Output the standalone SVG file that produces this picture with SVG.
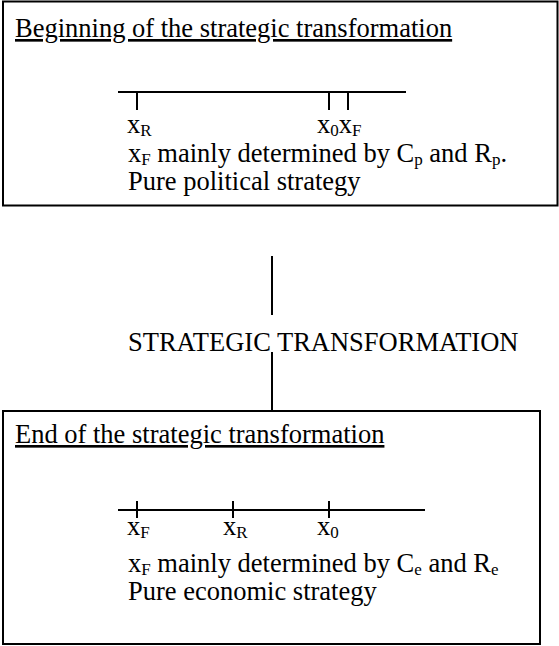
<svg xmlns="http://www.w3.org/2000/svg" width="559" height="646" viewBox="0 0 559 646">
<style>
text{font-family:'Liberation Serif','Times New Roman','Nimbus Roman','DejaVu Serif',serif;font-size:26.5px;fill:#000}
.sub{font-size:17px}
.box{fill:#fff;stroke:#000;stroke-width:2}
.ln{stroke:#000;stroke-width:2;fill:none}
.ul{text-decoration:underline}
</style>
<rect width="559" height="646" fill="#fff"/>
<g id="begin">
<rect class="box" x="3" y="1.5" width="554.5" height="204"/>
<text x="15" y="37" class="ul" font-family="Liberation Serif, serif">Beginning of the strategic transformation</text>
<path class="ln" d="M118 92H406M137 92V110M329 92V110M348 92V110"/>
<text x="127" y="133" font-family="Liberation Serif, serif">x<tspan class="sub" dy="3">R</tspan></text>
<text x="317" y="133" font-family="Liberation Serif, serif">x<tspan class="sub" dy="3">0</tspan><tspan dy="-3">x</tspan><tspan class="sub" dy="3">F</tspan></text>
<text x="128" y="162" font-family="Liberation Serif, serif">x<tspan class="sub" dy="3">F</tspan><tspan dy="-3"> mainly determined by C</tspan><tspan class="sub" dy="3">p</tspan><tspan dy="-3"> and R</tspan><tspan class="sub" dy="3">p</tspan><tspan dy="-3">.</tspan></text>
<text x="128" y="190" font-family="Liberation Serif, serif">Pure political strategy</text>
</g>
<g id="connectors">
<path class="ln" d="M272 256V315M272 352V410"/>
</g>
<g id="transformation">
<text x="128" y="351" font-family="Liberation Serif, serif">STRATEGIC TRANSFORMATION</text>
</g>
<g id="end">
<rect class="box" x="3" y="411" width="537" height="233"/>
<text x="15" y="443" class="ul" font-family="Liberation Serif, serif">End of the strategic transformation</text>
<path class="ln" d="M118 510H425M137 501V518M233 501V518M329 501V518"/>
<text x="127" y="535" font-family="Liberation Serif, serif">x<tspan class="sub" dy="3">F</tspan></text>
<text x="223" y="535" font-family="Liberation Serif, serif">x<tspan class="sub" dy="3">R</tspan></text>
<text x="317" y="535" font-family="Liberation Serif, serif">x<tspan class="sub" dy="3">0</tspan></text>
<text x="128" y="572" font-family="Liberation Serif, serif">x<tspan class="sub" dy="3">F</tspan><tspan dy="-3"> mainly determined by C</tspan><tspan class="sub" dy="3">e</tspan><tspan dy="-3"> and R</tspan><tspan class="sub" dy="3">e</tspan></text>
<text x="128" y="600" font-family="Liberation Serif, serif">Pure economic strategy</text>
</g>
</svg>
